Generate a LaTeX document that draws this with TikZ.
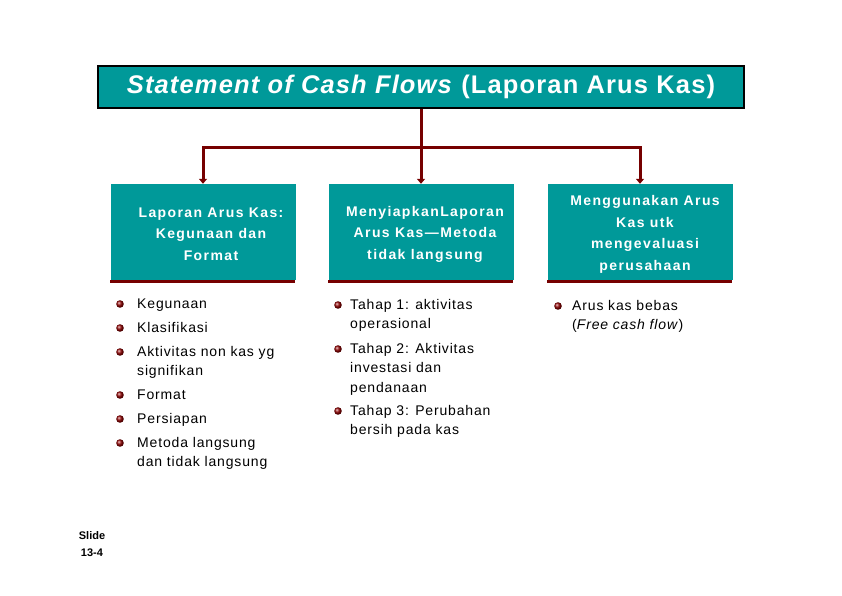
\documentclass[tikz,border=0pt]{standalone}
\usepackage{fontspec}
\setmainfont{Liberation Sans}
\newfontfamily\titlefont[LetterSpace=4.5]{Liberation Sans}
\newfontfamily\boxfont[LetterSpace=10]{Liberation Sans}
\newfontfamily\itemfont[LetterSpace=6]{Liberation Sans}
\usepackage{tikz}
\usetikzlibrary{arrows.meta}

\definecolor{slideteal}{RGB}{0,153,153}
\definecolor{slidered}{RGB}{118,0,0}

% lines of one bullet item, first baseline on the node baseline
\newcommand{\itemlines}[1]{\begin{tabular}[t]{@{}l@{}}#1\end{tabular}}

\begin{document}
\begin{tikzpicture}[x=1pt,y=-1pt,
    titlebox/.style={draw=black,line width=2pt,fill=slideteal,text=white,
      minimum width=646pt,minimum height=42pt,inner sep=0pt,
      font=\titlefont\bfseries\fontsize{25.5}{28}\selectfont},
    topicbox/.style={fill=slideteal,minimum width=185pt,minimum height=96pt,inner sep=0pt},
    topictext/.style={text=white,align=center,inner sep=0pt,
      font=\boxfont\bfseries\fontsize{14}{21.5}\selectfont},
    itemtext/.style={anchor=base west,inner sep=0pt,
      font=\itemfont\fontsize{14}{19.5}\selectfont},
    bullet/.style={ball color=slidered!80!red},
    link/.style={draw=slidered,line width=3pt},
    downtip/.style={-{Triangle[length=5pt,width=8pt]}},
    bothtips/.style={{Triangle[length=5pt,width=8pt]}-{Triangle[length=5pt,width=8pt]}}]
    \useasboundingbox (0,0) rectangle (842,596);
    % Title
    \node[titlebox] (title) at (421,87)
      {\raisebox{-1.5pt}{\textit{Statement of Cash Flows} (Laporan Arus Kas)}};
    % Three topic boxes with a dark shadow line below
    \node[topicbox] (topic1) at (203,232) {};
    \node[topicbox] (topic2) at (421,232) {};
    \node[topicbox] (topic3) at (640,232) {};
    \foreach \n in {1,2,3} {
      \fill[slidered] (topic\n.south west) rectangle ++(185,3);
    }
    \node[topictext] (head1) at (211,234) {Laporan Arus Kas:\\Kegunaan dan\\Format};
    \node[topictext] (head2) at (425,234) {MenyiapkanLaporan\\Arus Kas\textemdash Metoda\\tidak langsung};
    \node[topictext] (head3) at (645,234.5) {Menggunakan Arus\\Kas utk\\mengevaluasi\\perusahaan};
    % Connectors
    \coordinate (split) at (421,148);
    \draw[link,downtip] (title.south) -- (topic2.north);
    \draw[link,bothtips] (topic1.north) -- (topic1.north |- split)
      -- (topic3.north |- split) -- (topic3.north);
    % Bullet lists (y = baseline of first line)
    \foreach \y/\t [count=\i] in {308/Kegunaan,332/Klasifikasi,
        356/{Aktivitas non kas yg\\signifikan},399/Format,423/Persiapan,
        447/{Metoda langsung\\dan tidak langsung}} {
      \shade[bullet] (120,\y-4) circle (3.8pt);
      \node[itemtext] (item1-\i) at (137,\y) {\itemlines{\t}};
    }
    \foreach \y/\t [count=\i] in {309/{Tahap 1: aktivitas\\operasional},
        353/{Tahap 2: Aktivitas\\investasi dan\\pendanaan},
        415/{Tahap 3: Perubahan\\bersih pada kas}} {
      \shade[bullet] (338,\y-4) circle (3.8pt);
      \node[itemtext] (item2-\i) at (350,\y) {\itemlines{\t}};
    }
    \shade[bullet] (558,306) circle (3.8pt);
    \node[itemtext] (item3-1) at (572,310)
      {\itemlines{Arus kas bebas\\(\textit{Free cash flow})}};
    % Slide number
    \node[align=center,inner sep=0pt,font=\bfseries\fontsize{11}{17}\selectfont]
      (slide) at (92,544) {Slide\\13-4};
\end{tikzpicture}
\end{document}
